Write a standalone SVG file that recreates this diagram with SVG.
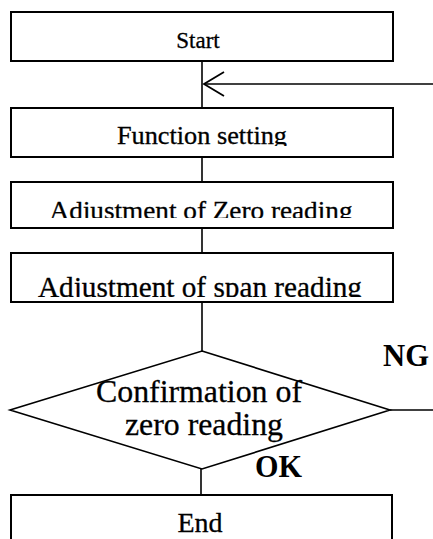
<svg xmlns="http://www.w3.org/2000/svg" width="433" height="539" viewBox="0 0 433 539">
<style>
.box{fill:#fff;stroke:#000;stroke-width:2}
.ln{fill:none;stroke:#000;stroke-width:1.6}
.t{font-family:"Liberation Serif","Times New Roman",serif;fill:#000;text-anchor:middle;stroke:#000;stroke-width:0.3}
.b{font-family:"Liberation Serif","Times New Roman",serif;fill:#000;font-weight:bold}
</style>
<defs>
<marker id="open" viewBox="0 0 24 26" refX="22" refY="13" markerWidth="24" markerHeight="26" markerUnits="userSpaceOnUse" orient="auto">
<polyline points="2,1 22,13 2,25" fill="none" stroke="#000" stroke-width="1.8"/>
</marker>
<clipPath id="c1"><rect x="0" y="100" width="433" height="46"/></clipPath>
<clipPath id="c2"><rect x="0" y="180" width="433" height="38"/></clipPath>
<clipPath id="c3"><rect x="0" y="255" width="433" height="42"/></clipPath>
</defs>
<g id="connectors">
<line class="ln" x1="202" y1="61" x2="202" y2="108"/>
<line class="ln" x1="433" y1="84" x2="204" y2="84" marker-end="url(#open)"/>
<line class="ln" x1="202" y1="157" x2="202" y2="182"/>
<line class="ln" x1="202" y1="228" x2="202" y2="253"/>
<line class="ln" x1="202" y1="302" x2="202" y2="351"/>
<line class="ln" x1="390" y1="410" x2="433" y2="410"/>
<line class="ln" x1="201" y1="469" x2="201" y2="495"/>
</g>
<g id="start">
<rect class="box" x="11" y="12" width="382" height="49"/>
<text class="t" x="198" y="48" font-size="23">Start</text>
</g>
<g id="function">
<rect class="box" x="11" y="108" width="382" height="49"/>
<text class="t" x="202" y="144" font-size="25" textLength="170" lengthAdjust="spacingAndGlyphs" clip-path="url(#c1)">Function setting</text>
</g>
<g id="zero">
<rect class="box" x="11" y="182" width="382" height="46"/>
<text class="t" x="201" y="219" font-size="26" textLength="303" lengthAdjust="spacingAndGlyphs" clip-path="url(#c2)">Adjustment of Zero reading</text>
</g>
<g id="span">
<rect class="box" x="11" y="253" width="382" height="49"/>
<text class="t" x="200" y="297" font-size="29" textLength="324" lengthAdjust="spacingAndGlyphs" clip-path="url(#c3)">Adjustment of span reading</text>
</g>
<g id="confirm">
<polygon class="ln" points="202,351 390,410 202,469 10,410"/>
<text class="t" x="199" y="402" font-size="32" textLength="206" lengthAdjust="spacingAndGlyphs">Confirmation of</text>
<text class="t" x="204" y="435" font-size="32" textLength="158" lengthAdjust="spacingAndGlyphs">zero reading</text>
</g>
<text class="b" x="383" y="366" font-size="31" textLength="46" lengthAdjust="spacingAndGlyphs">NG</text>
<text class="b" x="255" y="477" font-size="31" textLength="47" lengthAdjust="spacingAndGlyphs">OK</text>
<g id="end">
<rect class="box" x="11" y="495" width="381" height="60"/>
<text class="t" x="200" y="532" font-size="28">End</text>
</g>
</svg>
